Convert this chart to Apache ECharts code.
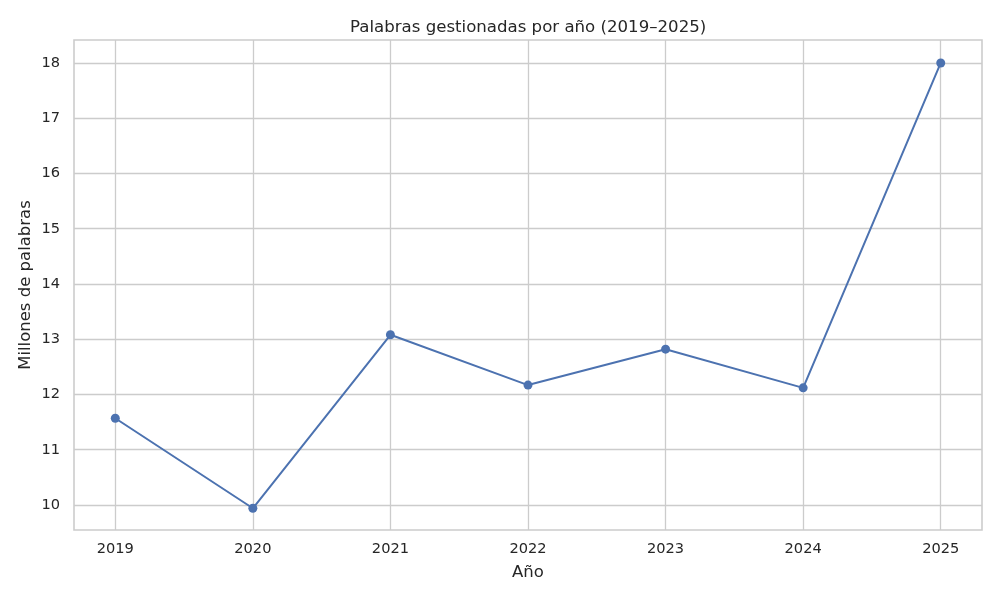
<!DOCTYPE html>
<html>
<head>
<meta charset="utf-8">
<script src="https://cdn.jsdelivr.net/npm/echarts@6/dist/echarts.min.js"></script>
<style>html,body{margin:0;padding:0;background:#fff}#c{width:1000px;height:600px}</style>
</head>
<body>
<div id="c"></div>
<script>
const years = [2019, 2020, 2021, 2022, 2023, 2024, 2025];
const palabras = [11.57, 9.94, 13.08, 12.17, 12.82, 12.12, 18.0];
const yTicks = [10, 11, 12, 13, 14, 15, 16, 17, 18];

const chart = echarts.init(document.getElementById('c'), null, {renderer: 'canvas'});
const font = 'DejaVu Sans';
chart.setOption({
  animation: false,
  backgroundColor: '#ffffff',
  title: {
    text: 'Palabras gestionadas por año (2019–2025)',
    left: 345, top: 14,
    textStyle: {fontFamily: font, fontSize: 16.6, fontWeight: 'normal', color: '#262626'}
  },
  grid: {left: 74, right: 18, top: 40, bottom: 70, show: true, borderColor: '#cccccc', borderWidth: 1.6, backgroundColor: 'transparent'},
  xAxis: {
    type: 'value', min: 2018.7, max: 2025.3,
    name: 'Año', nameLocation: 'middle', nameGap: 34,
    nameTextStyle: {fontFamily: font, fontSize: 16.5, color: '#262626'},
    axisLine: {show: false},
    axisTick: {show: false, customValues: years},
    axisLabel: {customValues: years, fontFamily: font, fontSize: 14.6, color: '#262626', margin: 12, formatter: v => String(v)},
    splitLine: {show: true, lineStyle: {color: '#cccccc', width: 1.3}}
  },
  yAxis: {
    type: 'value', min: 9.547, max: 18.416,
    name: 'Millones de palabras', nameLocation: 'middle', nameGap: 40, nameMoveOverlap: false,
    nameTextStyle: {fontFamily: font, fontSize: 16.5, color: '#262626'},
    axisLine: {show: false},
    axisTick: {show: false, customValues: yTicks},
    axisLabel: {customValues: yTicks, fontFamily: font, fontSize: 14.6, color: '#262626', margin: 14, formatter: v => String(v)},
    splitLine: {show: true, lineStyle: {color: '#cccccc', width: 1.3}}
  },
  series: [{
    type: 'line',
    data: years.map((y, i) => [y, palabras[i]]),
    symbol: 'circle', symbolSize: 9,
    itemStyle: {color: '#4c72b0'},
    lineStyle: {color: '#4c72b0', width: 2}
  }]
});
</script>
</body>
</html>
